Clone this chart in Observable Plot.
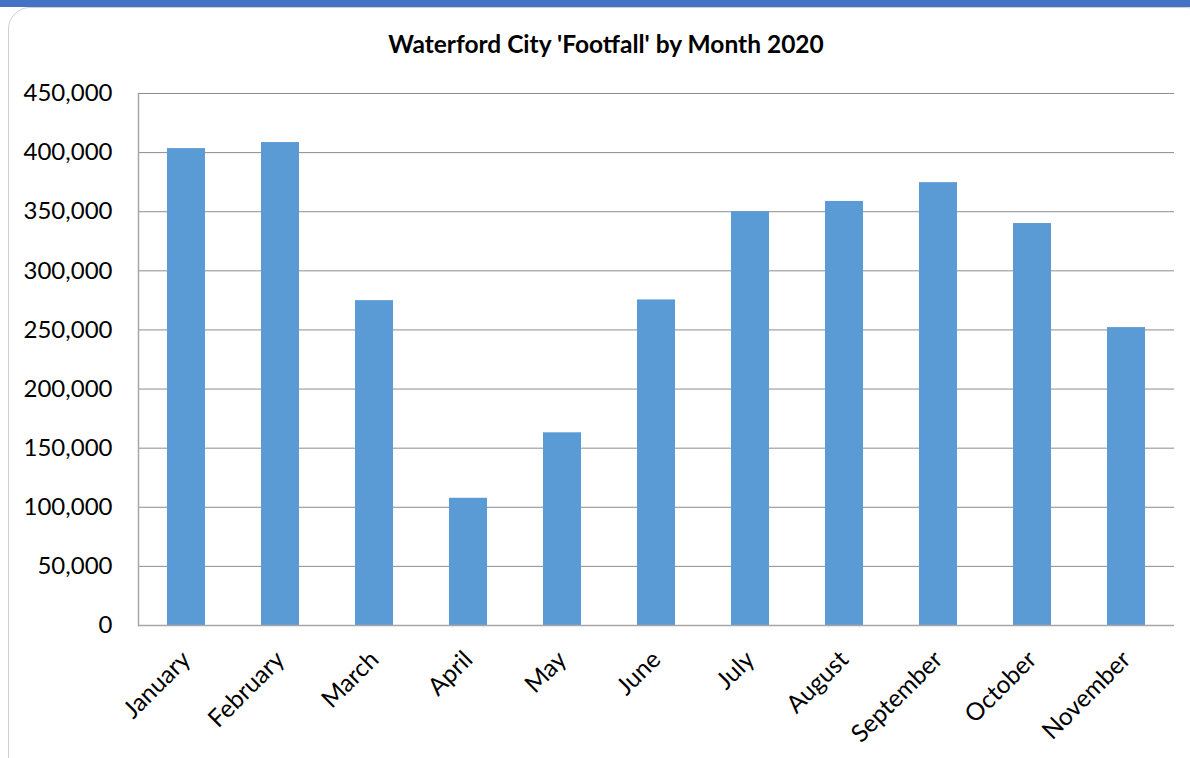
<!DOCTYPE html>
<html>
<head>
<meta charset="utf-8">
<script src="https://cdn.jsdelivr.net/npm/d3@7"></script>
<script src="https://cdn.jsdelivr.net/npm/@observablehq/plot@0.6"></script>
<style>
  html, body { margin: 0; padding: 0; background: #fff; width: 1190px; height: 758px; overflow: hidden; }
  #band { position: absolute; left: 0; top: 0; width: 1190px; height: 7px; background: #4472C4; }
  #box { position: absolute; left: 8px; top: 7px; width: 1200px; height: 780px; border: 1px solid #d0d0d0; border-radius: 22px; box-sizing: border-box; }
  #title { position: absolute; left: 0; width: 1212px; top: 29px; text-align: center; font-family: Lato, "Open Sans", sans-serif; font-weight: bold; font-size: 24.5px; color: #000; }
  #chart { position: absolute; left: 0; top: 0; }
</style>
</head>
<body>
<div id="band"></div>
<div id="box"></div>
<div id="title">Waterford City 'Footfall' by Month 2020</div>
<div id="chart"></div>
<script>
const months = ["January","February","March","April","May","June","July","August","September","October","November"];
const footfall = [403400, 408500, 274800, 107600, 163000, 275400, 350000, 358700, 374600, 340000, 252000];
const yTicks = [0, 50000, 100000, 150000, 200000, 250000, 300000, 350000, 400000, 450000];

const data = months.map((m, i) => ({month: m, value: footfall[i]}));
const fmt = d3.format(",");

const plot = Plot.plot({
  width: 1190,
  height: 758,
  marginLeft: 138,
  marginRight: 16,
  marginTop: 93,
  marginBottom: 133,
  style: {fontFamily: "Lato, 'Open Sans', sans-serif", background: "transparent", color: "#000"},
  x: {domain: months, paddingInner: 0.6, paddingOuter: 0.3, label: null},
  y: {domain: [0, 450000], label: null},
  marks: [
    Plot.gridY(yTicks, {stroke: "#8c8c8c", strokeOpacity: 1, strokeWidth: 1}),
    Plot.barY(data, {x: "month", y: "value", fill: "#5B9BD5"}),
    Plot.frame({anchor: "left", stroke: "#a6a6a6", strokeWidth: 1.5}),
    Plot.ruleY([0], {stroke: "#a6a6a6", strokeWidth: 1.5}),
    Plot.axisY(yTicks, {tickSize: 0, tickPadding: 26, fontSize: 24, tickFormat: fmt, label: null}),
    Plot.axisX({tickSize: 0, tickRotate: -45, fontSize: 24.5, tickPadding: 30, label: null})
  ]
});
document.getElementById("chart").appendChild(plot);
</script>
</body>
</html>
